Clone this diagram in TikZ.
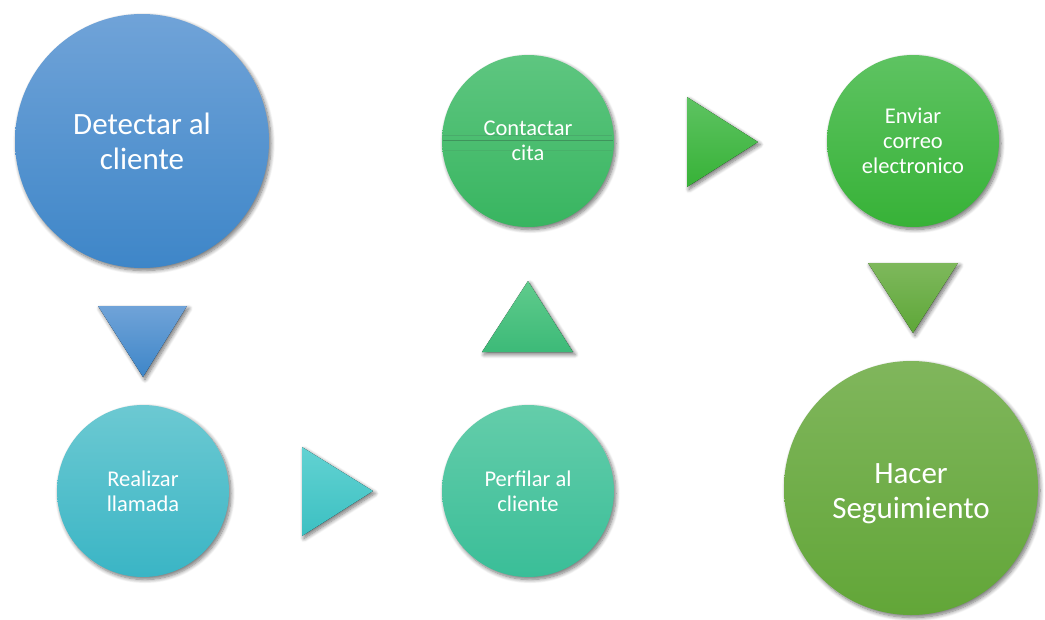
\documentclass[tikz,border=0pt]{standalone}
\usepackage{fontspec}
\setmainfont{Carlito}
\usetikzlibrary{shadows.blur}

% fill colours (top / bottom of each shape)
\definecolor{blueT}{RGB}{112,163,216}
\definecolor{blueB}{RGB}{62,134,200}
\definecolor{tealT}{RGB}{108,201,210}
\definecolor{tealB}{RGB}{58,181,197}
\definecolor{cyanT}{RGB}{98,210,210}
\definecolor{cyanB}{RGB}{60,192,194}
\definecolor{mintT}{RGB}{100,205,170}
\definecolor{mintB}{RGB}{58,190,152}
\definecolor{sgreenT}{RGB}{96,203,140}
\definecolor{sgreenB}{RGB}{60,186,120}
\definecolor{cgreenT}{RGB}{94,198,128}
\definecolor{cgreenB}{RGB}{56,181,96}
\definecolor{greenT}{RGB}{94,195,98}
\definecolor{greenB}{RGB}{55,178,55}
\definecolor{oliveT}{RGB}{126,184,92}
\definecolor{oliveB}{RGB}{94,167,56}
\definecolor{hacerT}{RGB}{128,182,92}
\definecolor{hacerB}{RGB}{98,166,56}
\definecolor{seam}{RGB}{70,150,100}

\tikzset{
  softshadow/.style={blur shadow={shadow xshift=2pt, shadow yshift=-2.5pt,
      shadow blur radius=4pt, shadow blur steps=8, shadow opacity=55}},
  stage/.style={circle, inner sep=0pt, text=white, align=center, softshadow},
  bigtext/.style={font=\fontsize{31}{35}\selectfont},
  smalltext/.style={font=\fontsize{22.5}{25}\selectfont},
  bigstage/.style={stage, minimum size=254pt, bigtext},
  smallstage/.style={stage, minimum size=172pt, smalltext},
  pointer/.style={softshadow},
}

\begin{document}
\begin{tikzpicture}[x=1pt,y=-1pt]
\useasboundingbox (0,0) rectangle (1045,619);

% process stages
\node[bigstage, top color=blueT, bottom color=blueB] (detectar) at (142,141)
  {Detectar al\\cliente};
\node[smallstage, top color=tealT, bottom color=tealB] (realizar) at (143,491)
  {Realizar\\llamada};
\node[smallstage, top color=mintT, bottom color=mintB] (perfilar) at (528,491)
  {Perfilar al\\cliente};
\node[smallstage, top color=cgreenT, bottom color=cgreenB] (contactar) at (528,141) {};
\node[smallstage, top color=greenT, bottom color=greenB] (enviar) at (913,141)
  {Enviar\\correo\\electronico};
\node[bigstage, top color=hacerT, bottom color=hacerB] (hacer) at (911,488) {};
\node[text=white, bigtext, align=center] (hacerlabel) at ([yshift=-6pt]hacer.center)
  {Hacer\\Seguimiento};

% thin seams across the "Contactar cita" disc, under its label
\draw[seam, opacity=0.45, line width=0.6pt] (443,135.5) -- (612,135.5);
\draw[seam!80!black, opacity=0.6, line width=0.8pt] (443,140.5) -- (613,140.5);
\draw[seam, opacity=0.3, line width=0.6pt] (444,150.5) -- (612,150.5);
\node[text=white, smalltext, align=center] (contactarlabel)
  at (contactar) {Contactar\\cita};

% direction pointers between stages
\fill[pointer, top color=blueT, bottom color=blueB]
  (98,306) -- (187,306) -- (143,377) -- cycle;
\fill[pointer, top color=cyanT, bottom color=cyanB]
  (302,447) -- (373,491) -- (302,536) -- cycle;
\fill[pointer, top color=sgreenT, bottom color=sgreenB]
  (528,281) -- (573,352) -- (482,352) -- cycle;
\fill[pointer, top color=greenT, bottom color=greenB]
  (687,97) -- (758,142) -- (687,187) -- cycle;
\fill[pointer, top color=oliveT, bottom color=oliveB]
  (868,263) -- (958,263) -- (913,333) -- cycle;
\end{tikzpicture}
\end{document}
